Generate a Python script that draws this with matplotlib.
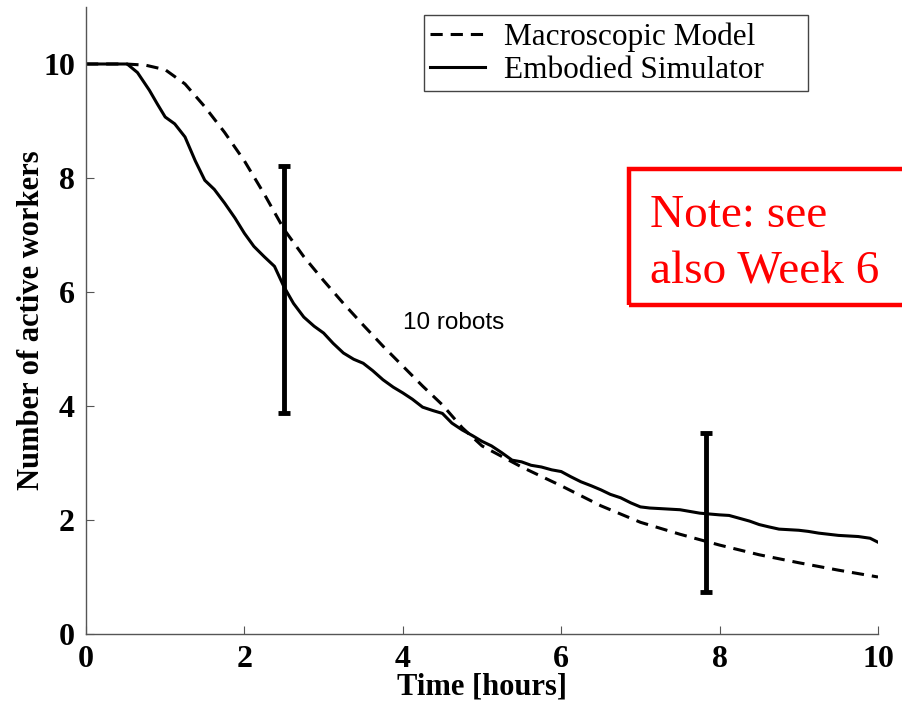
import matplotlib
matplotlib.use("Agg")
import matplotlib.pyplot as plt
from matplotlib.patches import Rectangle

# Macroscopic model (dashed)
model_t = [0.0, 0.5, 0.75, 1.0, 1.25, 1.5, 1.75, 2.0, 2.25, 2.5, 2.75, 3.0, 3.25, 3.5, 3.75, 4.0,
           4.25, 4.5, 4.75, 5.0, 5.5, 6.0, 6.5, 7.0, 7.5, 8.0, 8.5, 9.0, 9.5, 10.0]
model_n = [10.0, 10.0, 9.98, 9.9, 9.65, 9.25, 8.8, 8.3, 7.72, 7.1, 6.62, 6.2, 5.8, 5.42, 5.05, 4.7,
           4.35, 4.02, 3.62, 3.3, 2.93, 2.6, 2.25, 1.96, 1.75, 1.56, 1.39, 1.25, 1.12, 1.0]

# Embodied simulator (solid)
sim_t = [0.0, 0.52, 0.65, 0.8, 0.9, 1.0, 1.12, 1.25, 1.38, 1.5, 1.62, 1.75, 1.88, 2.0, 2.12, 2.25,
         2.38, 2.5, 2.62, 2.75, 2.88, 3.0, 3.12, 3.25, 3.38, 3.5, 3.62, 3.75, 3.88, 4.0, 4.12,
         4.25, 4.38, 4.5, 4.62, 4.75, 4.88, 5.0, 5.12, 5.25, 5.38, 5.5, 5.62, 5.75, 5.88, 6.0,
         6.12, 6.25, 6.38, 6.5, 6.62, 6.75, 6.88, 7.0, 7.12, 7.25, 7.5, 7.75, 8.0, 8.12, 8.25,
         8.38, 8.5, 8.62, 8.75, 9.0, 9.12, 9.25, 9.5, 9.75, 9.9, 10.0]
sim_n = [10.0, 10.0, 9.85, 9.54, 9.3, 9.07, 8.95, 8.72, 8.3, 7.96, 7.8, 7.56, 7.3, 7.03, 6.8, 6.62,
         6.45, 6.09, 5.8, 5.56, 5.4, 5.28, 5.1, 4.93, 4.82, 4.75, 4.62, 4.46, 4.33, 4.23, 4.12,
         3.98, 3.92, 3.87, 3.7, 3.58, 3.48, 3.38, 3.3, 3.18, 3.05, 3.02, 2.96, 2.93, 2.88, 2.85,
         2.76, 2.67, 2.6, 2.53, 2.45, 2.39, 2.3, 2.23, 2.21, 2.2, 2.18, 2.12, 2.09, 2.08, 2.03,
         1.98, 1.92, 1.88, 1.84, 1.82, 1.8, 1.77, 1.73, 1.71, 1.68, 1.61]

# Error bars
err_t = [2.5, 7.83]
err_lo = [3.88, 0.74]
err_hi = [8.21, 3.53]

xticks = [0, 2, 4, 6, 8, 10]
yticks = [0, 2, 4, 6, 8, 10]

fig = plt.figure(figsize=(9.03, 7.02), dpi=100)
ax = fig.add_axes([86/903, 1-634/702, 792/903, 627/702])

serif = ["Liberation Serif", "DejaVu Serif"]

ax.plot(model_t, model_n, color="black", lw=2.2, ls=(0, (4, 2.6)), label="Macroscopic Model")
ax.plot(sim_t, sim_n, color="black", lw=2.2, ls="-", label="Embodied Simulator")

for t, lo, hi in zip(err_t, err_lo, err_hi):
    mid = (lo + hi) / 2
    ax.errorbar([t], [mid], yerr=[[mid - lo], [hi - mid]], fmt="none", ecolor="black",
                elinewidth=3.5, capsize=4, capthick=3.5)

ax.set_xlim(0, 10)
ax.set_ylim(0, 11)
ax.set_xticks(xticks)
ax.set_yticks(yticks)
ax.set_xticklabels([str(v) for v in xticks], fontfamily=serif, fontweight="bold", fontsize=23)
ax.set_yticklabels([str(v) for v in yticks], fontfamily=serif, fontweight="bold", fontsize=23)
ax.tick_params(direction="in", length=6, width=0.8, color="#555555")
ax.tick_params(axis="x", pad=8)
ax.tick_params(axis="y", pad=8)
for s in ["top", "right"]:
    ax.spines[s].set_visible(False)
for s in ["left", "bottom"]:
    ax.spines[s].set_color("#555555")
    ax.spines[s].set_linewidth(1.0)

ax.set_xlabel("Time [hours]", fontfamily=serif, fontweight="bold", fontsize=22, labelpad=-1)
ax.set_ylabel("Number of active workers", fontfamily=serif, fontweight="bold", fontsize=22, labelpad=-2)

ax.text(4.0, 5.46, "10 robots", fontfamily=["Liberation Sans", "DejaVu Sans"], fontsize=17.5,
        ha="left", va="center")

leg = fig.legend(loc="upper left", bbox_to_anchor=(424/903, 1-16/702), bbox_transform=fig.transFigure,
                 prop={"family": serif, "size": 22.5}, frameon=False,
                 handlelength=1.75, handletextpad=0.6, borderpad=0.2, labelspacing=0.12,
                 borderaxespad=0)
fig.patches.append(Rectangle((424/903, 1-91/702), 384/903, 76/702, transform=fig.transFigure,
                             fill=False, edgecolor="#444444", linewidth=1.0, figure=fig))

fig.patches.append(Rectangle((629/903, 1-305/702), 300/903, 136/702, transform=fig.transFigure,
                             fill=False, edgecolor="red", linewidth=3.2, figure=fig))
fig.text(650/903, 1-227/702, "Note: see", color="red", fontfamily=serif,
         fontsize=34, ha="left", va="baseline")
fig.text(650/903, 1-283/702, "also Week 6", color="red", fontfamily=serif,
         fontsize=34, ha="left", va="baseline")

fig.savefig("out.png", dpi=100)
